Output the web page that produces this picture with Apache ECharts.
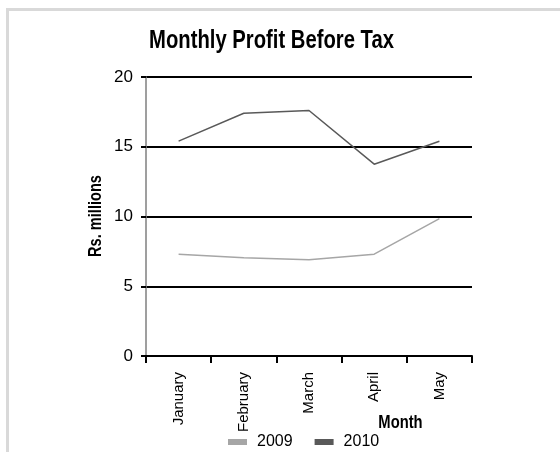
<!DOCTYPE html>
<html>
<head>
<meta charset="utf-8">
<script src="https://cdn.jsdelivr.net/npm/echarts@6/dist/echarts.min.js"></script>
<style>
  html, body { margin: 0; padding: 0; background: #fff; }
  #chart { width: 560px; height: 452px; }
</style>
</head>
<body>
<div id="chart"></div>
<script>
// Monthly profit before tax, Rs. millions
const months = ['January', 'February', 'March', 'April', 'May'];
const profit2009 = [7.3, 7.05, 6.9, 7.3, 9.85];
const profit2010 = [15.4, 17.4, 17.6, 13.75, 15.4];
const seriesNames = ['2009', '2010'];
const yTicks = { min: 0, max: 20, interval: 5 };

const FONT = "'Liberation Sans', Arial, sans-serif";
// narrow look for the headings: regular face squeezed horizontally
const NARROW = 0.81;

const chart = echarts.init(document.getElementById('chart'), null, { renderer: 'canvas' });

chart.setOption({
  backgroundColor: '#ffffff',
  animation: false,
  textStyle: { fontFamily: FONT },
  grid: { left: 146, right: 88, top: 77, bottom: 96, containLabel: false },
  legend: {
    left: 228,
    top: 434,
    padding: 0,
    icon: 'rect',
    itemWidth: 19,
    itemHeight: 6,
    itemGap: 22,
    data: seriesNames,
    textStyle: { fontFamily: FONT, fontSize: 16, color: '#000', padding: [0, 0, 0, 5] }
  },
  xAxis: {
    type: 'category',
    data: months,
    boundaryGap: true,
    axisLine: { lineStyle: { color: '#000', width: 2 } },
    axisTick: { show: true, length: 7, lineStyle: { color: '#000', width: 2 } },
    axisLabel: { rotate: 90, margin: 16, fontFamily: FONT, fontSize: 15, color: '#000' },
    splitLine: { show: false }
  },
  yAxis: {
    type: 'value',
    min: yTicks.min,
    max: yTicks.max,
    interval: yTicks.interval,
    axisLine: { show: true, lineStyle: { color: '#7f7f7f', width: 1.5 } },
    axisTick: { show: true, length: 5, lineStyle: { color: '#000', width: 2 } },
    axisLabel: { margin: 13, fontFamily: FONT, fontSize: 17, color: '#000' },
    splitLine: { show: true, lineStyle: { color: '#000', width: 2 } }
  },
  series: [
    {
      name: seriesNames[0],
      type: 'line',
      data: profit2009,
      symbol: 'none',
      color: '#a6a6a6',
      lineStyle: { color: '#a6a6a6', width: 1.5 },
      z: 3
    },
    {
      name: seriesNames[1],
      type: 'line',
      data: profit2010,
      symbol: 'none',
      color: '#595959',
      lineStyle: { color: '#595959', width: 1.5 },
      z: 3
    }
  ],
  graphic: [
    // light frame along the top and left edges
    { type: 'rect', shape: { x: 6, y: 8, width: 560, height: 3 }, style: { fill: '#d9d9d9' }, silent: true },
    { type: 'rect', shape: { x: 6, y: 8, width: 3, height: 460 }, style: { fill: '#d9d9d9' }, silent: true },
    {
      type: 'text',
      x: 271.5, y: 41.5,
      scaleX: NARROW,
      style: { text: 'Monthly Profit Before Tax', font: 'bold 25px ' + FONT, fill: '#000', align: 'center', verticalAlign: 'middle' }
    },
    {
      type: 'text',
      x: 96.5, y: 216,
      rotation: Math.PI / 2,
      scaleX: NARROW,
      style: { text: 'Rs. millions', font: 'bold 18px ' + FONT, fill: '#000', align: 'center', verticalAlign: 'middle' }
    },
    {
      type: 'text',
      x: 400.5, y: 423,
      scaleX: 0.82,
      style: { text: 'Month', font: 'bold 18px ' + FONT, fill: '#000', align: 'center', verticalAlign: 'middle' }
    }
  ]
});
</script>
</body>
</html>
